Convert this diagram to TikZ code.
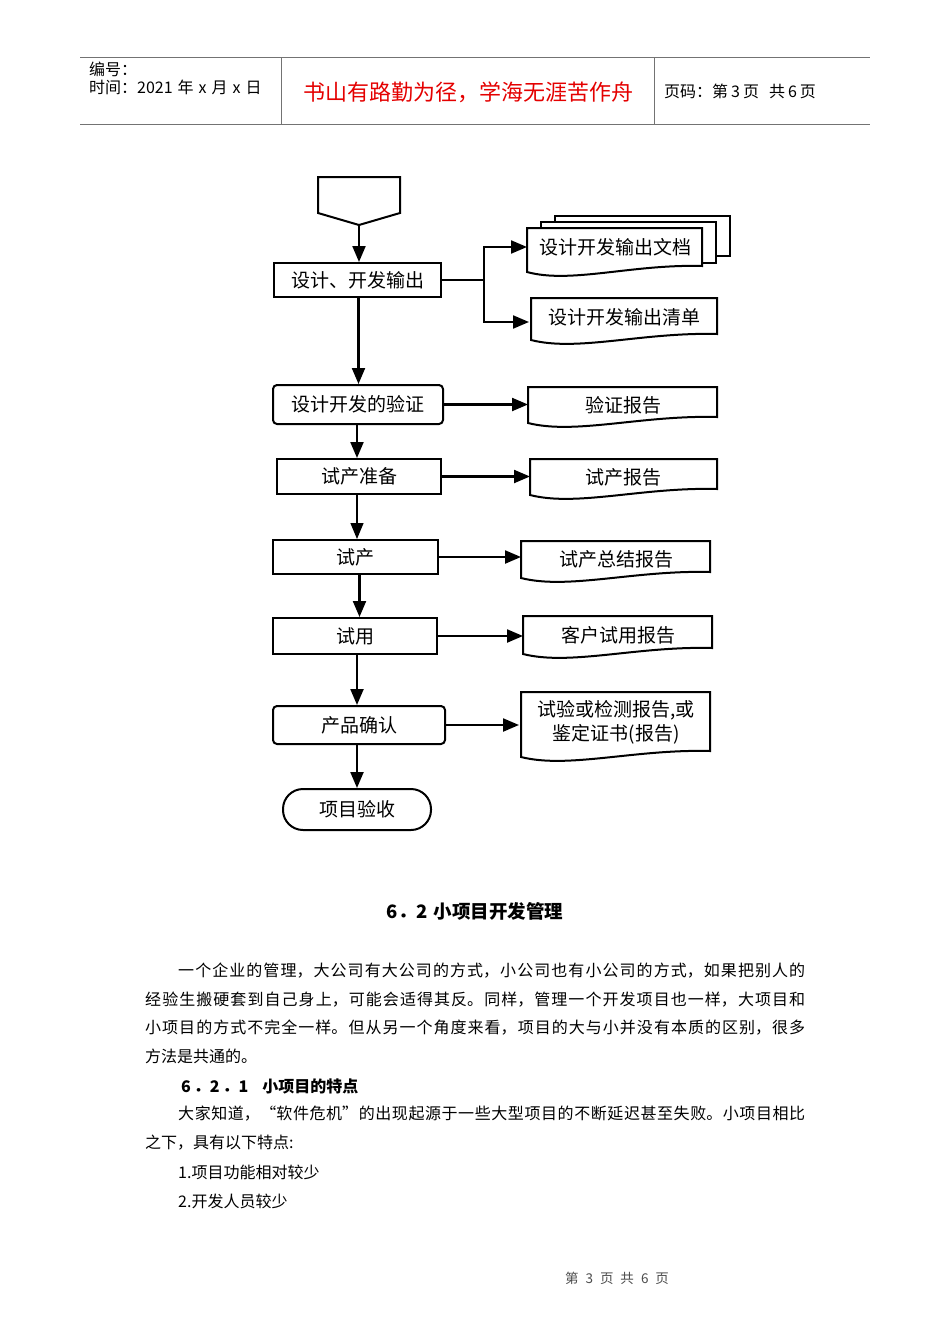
\documentclass[tikz,border=0pt]{standalone}
\usepackage{fontspec}
\setmainfont{Noto Sans CJK SC}
\usetikzlibrary{arrows.meta}
\XeTeXlinebreaklocale "zh"
\XeTeXlinebreakskip=0pt plus 3pt
\definecolor{hline}{gray}{0.45}
\definecolor{redt}{RGB}{228,0,0}
\definecolor{foottext}{gray}{0.3}
\newcommand\jline[2]{\parbox{#1}{\parfillskip=0pt\relax #2}}
\newcommand\docpath[4]{%
  \draw[docline] (#1,#2) -- (#3,#2) -- (#3,#4-6)
    .. controls ({#1+0.6*(#3-#1)},#4-8) and ({#1+0.25*(#3-#1)},#4+12) .. (#1,#4) -- cycle;}
\begin{document}
\begin{tikzpicture}[x=1pt,y=-1pt,
  proc/.style={draw, line width=2pt, inner sep=0pt, font=\fontsize{19}{22}\selectfont},
  rproc/.style={proc, rounded corners=4pt},
  term/.style={proc, rounded corners=20pt},
  doctext/.style={inner sep=0pt, font=\fontsize{19}{22}\selectfont, align=center},
  arr/.style={line width=2.2pt, -{Triangle[length=16pt,width=13pt]}},
  thinarr/.style={line width=1.2pt, -{Triangle[length=16pt,width=13pt]}},
  docline/.style={draw, fill=white, line width=2pt},
  hdr/.style={draw=hline, line width=1pt},
  hdrtext/.style={inner sep=0pt, font=\fontsize{16}{19}\selectfont},
  body/.style={inner sep=0pt, anchor=west, font=\fontsize{16}{19}\selectfont},
]
\useasboundingbox (0,0) rectangle (950,1344);
% header
\draw[hdr] (80,57) -- (870,57);
\draw[hdr] (80,124) -- (870,124);
\draw[hdr] (281,57) -- (281,124);
\draw[hdr] (654,57) -- (654,124);
\node[hdrtext, anchor=west] (hnum) at (89,69) {编号：};
\node[hdrtext, anchor=west] (htime) at (89,87) {时间：2021\hspace{5pt}年\hspace{5pt}x\hspace{5pt}月\hspace{5pt}x\hspace{5pt}日};
\node[inner sep=0pt, font=\fontsize{22}{25}\selectfont, text=redt] (motto) at (468,92) {书山有路勤为径，学海无涯苦作舟};
\node[hdrtext, anchor=west] (hpage) at (664,91) {页码：第\hspace{3pt}3\hspace{3pt}页\hspace{10pt}共\hspace{3pt}6\hspace{3pt}页};

% start symbol
\draw[line width=2pt] (318,177) -- (400,177) -- (400,213) -- (359,225) -- (318,213) -- cycle;
\coordinate (s) at (359,225);

% process boxes
\node[proc, minimum width=167pt, minimum height=34pt] (b1) at (357.5,280) {设计、开发输出};
\node[rproc, minimum width=170pt, minimum height=39pt] (b2) at (358,404.5) {设计开发的验证};
\node[proc, minimum width=164pt, minimum height=35pt] (b3) at (359,476.5) {试产准备};
\node[proc, minimum width=165pt, minimum height=34pt] (b4) at (355.5,557) {试产};
\node[proc, minimum width=164pt, minimum height=36pt] (b5) at (355,636) {试用};
\node[rproc, minimum width=172pt, minimum height=38pt] (b6) at (359,725) {产品确认};
\node[term, minimum width=148pt, minimum height=41pt] (t) at (357,809.5) {项目验收};

% documents
\draw[docline] (555,216) rectangle (730,256);
\draw[docline] (541,222) rectangle (716,263);
\docpath{527}{228}{702}{272}
\node[doctext] (d1) at (615,247) {设计开发输出文档};
\docpath{531}{298}{717}{340}
\node[doctext] (d2) at (624,317) {设计开发输出清单};
\docpath{528}{387}{717}{423}
\node[doctext] (d3) at (623,405) {验证报告};
\docpath{530}{459}{717}{495}
\node[doctext] (d4) at (623,477) {试产报告};
\docpath{521}{541}{710}{578}
\node[doctext] (d5) at (616,559) {试产总结报告};
\docpath{523}{616}{712}{654}
\node[doctext] (d6) at (618,635) {客户试用报告};
\docpath{521}{692}{710}{757}
\node[doctext, font=\fontsize{19}{24}\selectfont] (d7) at (616,722) {试验或检测报告,或\\鉴定证书(报告)};

% vertical connectors
\draw[arr] (s) -- (s |- b1.north);
\draw[arr] ([xshift=1pt]b1.south) -- ([xshift=1pt]b1.south |- b2.north);
\draw[arr] ([xshift=-1pt]b2.south) -- ([xshift=-1pt]b2.south |- b3.north);
\draw[thinarr] ([xshift=-2pt]b3.south) -- ([xshift=-2pt]b3.south |- b4.north);
\draw[arr] ([xshift=4pt]b4.south) -- ([xshift=4pt]b4.south |- b5.north);
\draw[arr] ([xshift=2pt]b5.south) -- ([xshift=2pt]b5.south |- b6.north);
\draw[arr] ([xshift=-2pt]b6.south) -- ([xshift=-2pt]b6.south |- t.north);

% horizontal connectors
\coordinate (j) at (484,280);
\draw[line width=2.2pt] (b1.east) -- (j);
\draw[arr] (j) |- (527,247);
\draw[arr] (j) |- (529,322);
\draw[arr] (b2.east) -- (b2.east -| 528,0);
\draw[arr] (b3.east) -- (b3.east -| 530,0);
\draw[arr] (b4.east) -- (b4.east -| 521,0);
\draw[arr] (b5.east) -- (b5.east -| 523,0);
\draw[arr] (b6.east) -- (b6.east -| 519,0);

% text
\node[inner sep=0pt, font=\bfseries\fontsize{18.5}{21}\selectfont] (h62) at (475,911) {6．2\hspace{6pt}小项目开发管理};
\node[body] (p1) at (178,971) {\jline{627pt}{一个企业的管理，大公司有大公司的方式，小公司也有小公司的方式，如果把别人的}};
\node[body] (p2) at (145,1000) {\jline{660pt}{经验生搬硬套到自己身上，可能会适得其反。同样，管理一个开发项目也一样，大项目和}};
\node[body] (p3) at (145,1028) {\jline{660pt}{小项目的方式不完全一样。但从另一个角度来看，项目的大与小并没有本质的区别，很多}};
\node[body] (p4) at (145,1056) {方法是共通的。};
\node[body, font=\bfseries\fontsize{16}{19}\selectfont] (h621) at (181,1086) {6\hspace{3pt}．2\hspace{3pt}．1\hspace{14pt}小项目的特点};
\node[body] (p5) at (178,1114) {\jline{627pt}{大家知道，“软件危机”的出现起源于一些大型项目的不断延迟甚至失败。小项目相比}};
\node[body] (p6) at (145,1143) {之下，具有以下特点:};
\node[body] (l1) at (178,1172) {1.项目功能相对较少};
\node[body] (l2) at (178,1201) {2.开发人员较少};
\node[inner sep=0pt, text=foottext, font=\fontsize{13.5}{15}\selectfont] (foot) at (617,1278) {第\hspace{7pt}3\hspace{7pt}页\hspace{7pt}共\hspace{7pt}6\hspace{7pt}页};
\end{tikzpicture}
\end{document}
